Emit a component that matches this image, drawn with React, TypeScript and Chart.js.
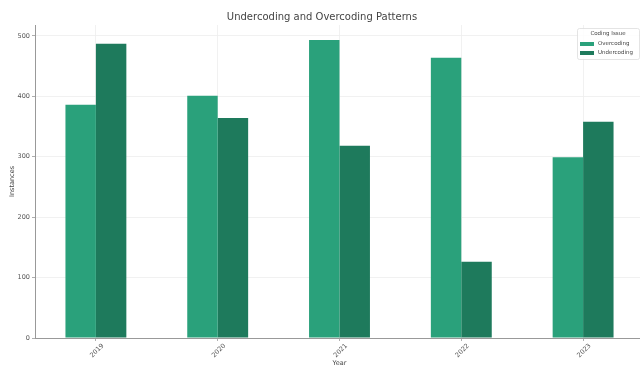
import React, { useEffect, useRef } from "react";
import { Chart, registerables } from "chart.js";

Chart.register(...registerables);

const years = ["2019", "2020", "2021", "2022", "2023"];
const overcoding = [386, 401, 493, 464, 299];
const undercoding = [487, 364, 318, 126, 358];
const seriesNames = ["Overcoding", "Undercoding"];
const seriesColors = ["#2aa17b", "#1e7a5c"];
const yTicks = [0, 100, 200, 300, 400, 500];

const FONT = "'DejaVu Sans', sans-serif";

// Legend box drawn inside the plot's upper-right corner
const insideLegend = {
  id: "insideLegend",
  afterDraw(chart: any) {
    const { ctx, chartArea } = chart;
    const w = 62;
    const h = 31;
    const x = 577;
    const y = chartArea.top + 3;
    ctx.save();
    ctx.fillStyle = "rgba(255,255,255,0.85)";
    ctx.strokeStyle = "#dddddd";
    ctx.lineWidth = 0.8;
    ctx.beginPath();
    ctx.roundRect(x + 0.5, y + 0.5, w, h, 2);
    ctx.fill();
    ctx.stroke();
    ctx.fillStyle = "#444";
    ctx.font = `5.5px ${FONT}`;
    ctx.textAlign = "center";
    ctx.textBaseline = "middle";
    ctx.fillText("Coding Issue", x + w / 2, y + 6);
    ctx.textAlign = "left";
    chart.data.datasets.forEach((ds: any, i: number) => {
      const rowY = y + 16 + i * 9;
      ctx.fillStyle = ds.backgroundColor;
      ctx.fillRect(x + 3, rowY - 2, 14, 4);
      ctx.fillStyle = "#444";
      ctx.fillText(ds.label, x + 21, rowY);
    });
    ctx.restore();
  },
};

export default function App() {
  const ref = useRef<HTMLCanvasElement | null>(null);

  useEffect(() => {
    if (!ref.current) return;
    const chart = new Chart(ref.current, {
      type: "bar",
      data: {
        labels: years,
        datasets: [
          {
            label: seriesNames[0],
            data: overcoding,
            backgroundColor: seriesColors[0],
            borderWidth: 0,
            categoryPercentage: 0.5,
            barPercentage: 1,
          },
          {
            label: seriesNames[1],
            data: undercoding,
            backgroundColor: seriesColors[1],
            borderWidth: 0,
            categoryPercentage: 0.5,
            barPercentage: 1,
          },
        ],
      },
      options: {
        animation: false,
        responsive: false,
        layout: { padding: 0 },
        plugins: {
          legend: { display: false },
          tooltip: { enabled: false },
          title: {
            display: true,
            text: "Undercoding and Overcoding Patterns",
            color: "#444",
            font: { family: FONT, size: 10, weight: "normal" },
            padding: { top: 11, bottom: 2 },
          },
        },
        scales: {
          x: {
            offset: true,
            grid: {
              offset: false,
              color: "#eeeeee",
              lineWidth: 0.8,
              tickColor: "#999",
              tickLength: 3,
            },
            border: { color: "#999", width: 1 },
            ticks: {
              color: "#555",
              font: { family: FONT, size: 6.5 },
              minRotation: 45,
              maxRotation: 45,
              labelOffset: 7,
              padding: 1,
            },
            title: {
              display: true,
              text: "Year",
              color: "#444",
              font: { family: FONT, size: 6.5 },
              padding: { top: 0, bottom: 0 },
            },
            afterFit: (s: any) => {
              s.height = 29;
            },
          },
          y: {
            min: 0,
            max: 518,
            afterBuildTicks: (s: any) => {
              s.ticks = yTicks.map((v) => ({ value: v }));
            },
            grid: {
              color: "#eeeeee",
              lineWidth: 0.8,
              tickColor: "#999",
              tickLength: 3,
            },
            border: { color: "#999", width: 1 },
            ticks: {
              color: "#555",
              font: { family: FONT, size: 6.5 },
              padding: 2,
            },
            title: {
              display: true,
              text: "Instances",
              color: "#444",
              font: { family: FONT, size: 6.5 },
              padding: { top: 8, bottom: 0 },
            },
            afterFit: (s: any) => {
              s.width = 35;
            },
          },
        },
      },
      plugins: [insideLegend],
    });
    return () => chart.destroy();
  }, []);

  return (
    <div
      style={{
        position: "fixed",
        left: 0,
        top: 0,
        width: 640,
        height: 367,
        overflow: "hidden",
        background: "#fff",
      }}
    >
      <canvas ref={ref} width={644} height={367} style={{ display: "block" }} />
    </div>
  );
}
